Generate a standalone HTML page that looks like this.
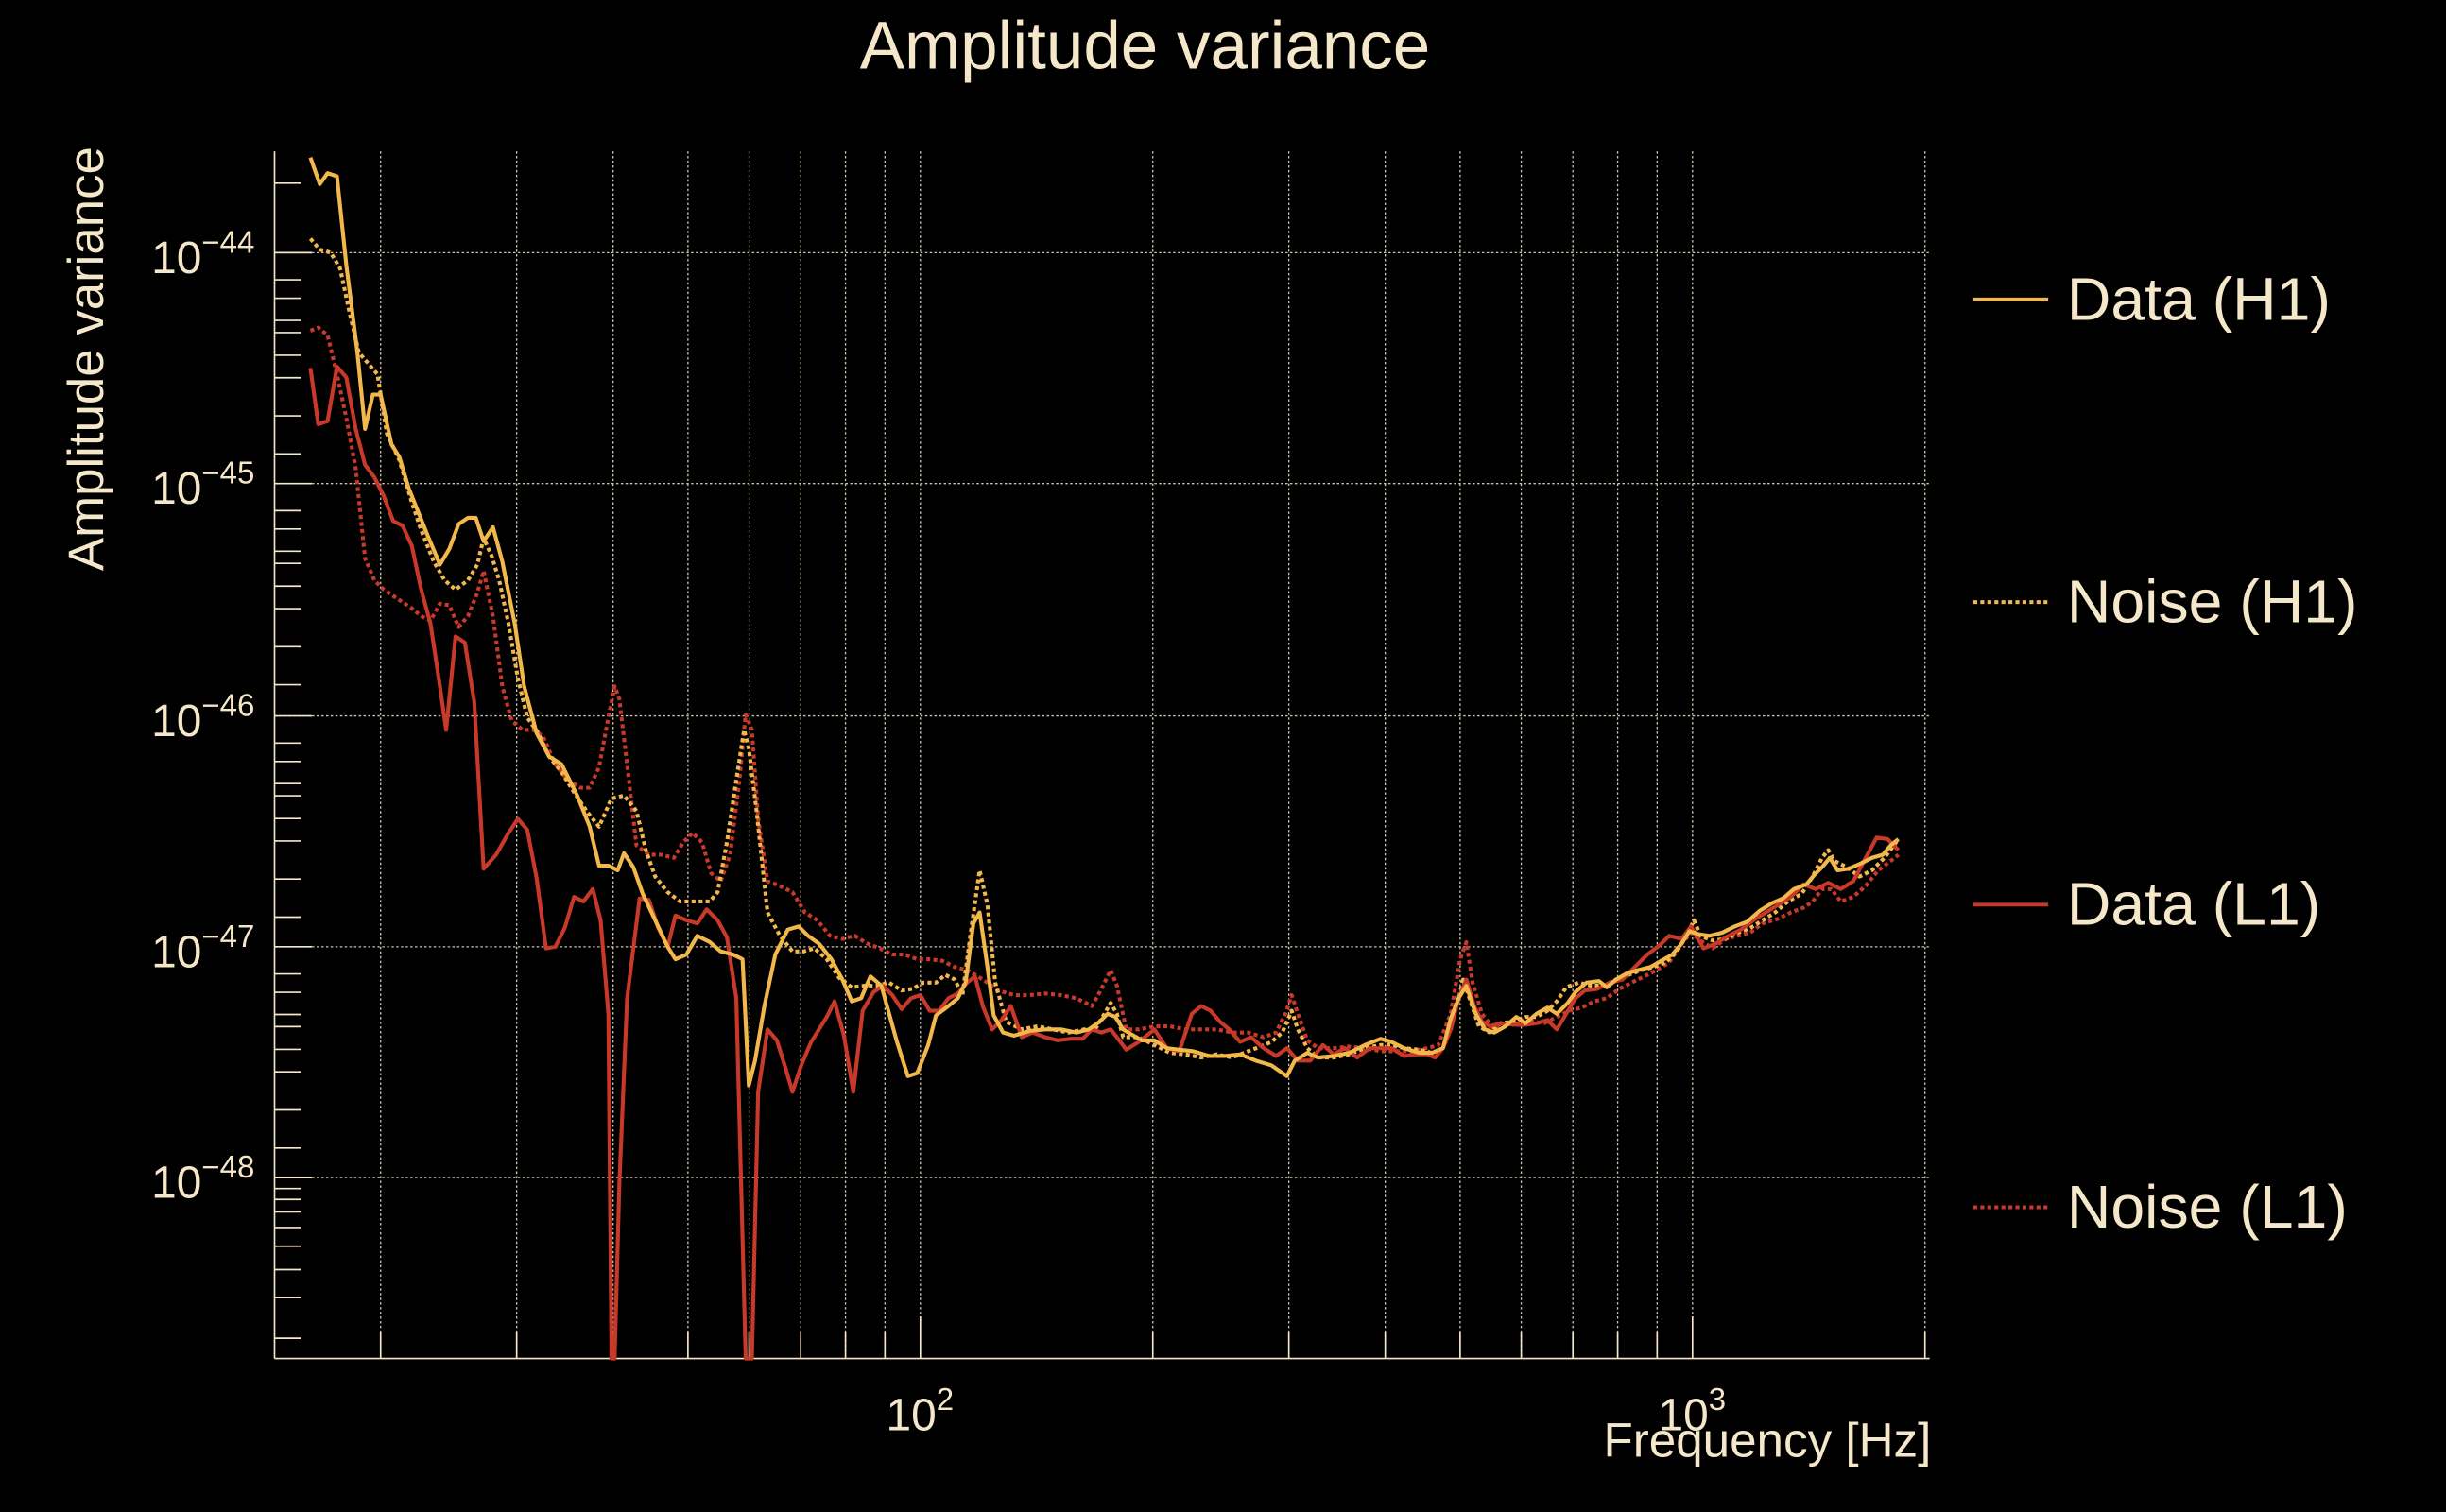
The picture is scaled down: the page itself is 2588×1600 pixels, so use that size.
<!DOCTYPE html>
<html><head><meta charset="utf-8"><style>
html,body{margin:0;padding:0;background:#000;}
svg{display:block;}
text{font-family:"Liberation Sans",sans-serif;fill:#f5e7c9;}
</style></head><body>
<svg width="2588" height="1600" viewBox="0 0 1568 969.4" xmlns="http://www.w3.org/2000/svg">
<rect x="0" y="0" width="1568" height="970" fill="#000"/>
<g stroke="#f5e7c9" stroke-width="0.8" stroke-dasharray="1.5,1.5" opacity="0.85">
<line x1="244" y1="97" x2="244" y2="871"/><line x1="331.2" y1="97" x2="331.2" y2="871"/><line x1="393" y1="97" x2="393" y2="871"/><line x1="441" y1="97" x2="441" y2="871"/><line x1="480.2" y1="97" x2="480.2" y2="871"/><line x1="513.3" y1="97" x2="513.3" y2="871"/><line x1="542" y1="97" x2="542" y2="871"/><line x1="567.3" y1="97" x2="567.3" y2="871"/><line x1="590" y1="97" x2="590" y2="871"/><line x1="739" y1="97" x2="739" y2="871"/><line x1="826.2" y1="97" x2="826.2" y2="871"/><line x1="888" y1="97" x2="888" y2="871"/><line x1="936" y1="97" x2="936" y2="871"/><line x1="975.2" y1="97" x2="975.2" y2="871"/><line x1="1008.3" y1="97" x2="1008.3" y2="871"/><line x1="1037" y1="97" x2="1037" y2="871"/><line x1="1062.3" y1="97" x2="1062.3" y2="871"/><line x1="1085" y1="97" x2="1085" y2="871"/><line x1="1234" y1="97" x2="1234" y2="871"/>
<line x1="176" y1="162" x2="1237" y2="162"/><line x1="176" y1="310" x2="1237" y2="310"/><line x1="176" y1="459" x2="1237" y2="459"/><line x1="176" y1="607" x2="1237" y2="607"/><line x1="176" y1="755" x2="1237" y2="755"/>
</g>
<g stroke="#f5e7c9" stroke-width="1">
<line x1="176" y1="97" x2="176" y2="871"/><line x1="176" y1="871" x2="1237" y2="871"/>
<path d="M176 117.4h17M176 162h24M176 179.4h17M176 191.2h17M176 205.4h17M176 213.2h17M176 227.8h17M176 242.2h17M176 266.6h17M176 291h17M176 310h24M176 327.4h17M176 339.2h17M176 353.4h17M176 361.2h17M176 375.8h17M176 390.2h17M176 414.6h17M176 439h17M176 459h24M176 476.4h17M176 488.2h17M176 502.4h17M176 510.2h17M176 524.8h17M176 539.2h17M176 563.6h17M176 588h17M176 607h24M176 624.4h17M176 636.2h17M176 650.4h17M176 658.2h17M176 672.8h17M176 687.2h17M176 711.6h17M176 736h17M176 755h24M176 762h17M176 769h17M176 777h17M176 787h17M176 799h17M176 814h17M176 832h17M176 858h17"/>
<path d="M244 871v-17M331.2 871v-17M393 871v-17M441 871v-17M480.2 871v-17M513.3 871v-17M542 871v-17M567.3 871v-17M590 871v-27M739 871v-17M826.2 871v-17M888 871v-17M936 871v-17M975.2 871v-17M1008.3 871v-17M1037 871v-17M1062.3 871v-17M1085 871v-27M1234 871v-17"/>
</g>
<g fill="none" stroke-width="2.5" stroke-linejoin="round">
<polyline stroke="#c8392a" stroke-dasharray="2.5,2" points="199,212 204,210 210,215 216,240 222,268 228,300 234,358 240,372 246,378 252,382 258,386 264,390 270,395 276,398 282,387 288,388 294,402 300,395 306,380 310,366 316,395 322,440 328,462 335,468 342,468 348,472 356,490 364,500 372,505 378,505 384,492 390,460 394,440 397,448 402,490 408,542 416,548 424,548 432,550 438,540 444,534 450,540 456,560 462,565 468,548 474,500 478,458 482,468 486,525 492,565 500,568 508,572 516,585 524,590 532,600 540,602 548,600 556,605 564,608 572,612 580,612 588,615 596,615 604,616 612,620 620,622 630,628 640,635 650,638 660,638 670,637 680,638 690,640 700,645 705,636 712,622 716,632 722,660 730,660 740,658 750,658 760,660 770,660 780,660 790,662 800,662 810,665 818,662 824,650 828,638 832,650 838,667 845,672 855,672 865,671 875,672 885,674 895,674 905,674 915,672 922,670 930,650 936,615 940,604 944,630 950,650 958,660 966,657 974,656 982,655 990,656 998,652 1006,648 1014,646 1022,642 1030,640 1038,634 1046,630 1054,626 1062,622 1070,617 1078,605 1084,598 1090,603 1098,608 1106,602 1114,600 1122,598 1130,592 1140,589 1148,585 1156,582 1162,578 1168,570 1174,570 1180,578 1188,575 1196,568 1204,558 1212,552 1217,548"/>
<polyline stroke="#f2b84b" stroke-dasharray="2.5,2" points="199,153 205,160 212,162 218,172 224,200 230,226 236,233 242,240 248,278 256,295 264,322 270,340 278,360 285,372 292,378 300,372 306,362 310,345 315,356 320,372 326,400 332,435 338,460 345,470 352,485 360,495 368,508 376,520 384,530 392,512 400,510 408,520 414,545 420,562 428,572 436,578 445,578 455,578 460,572 466,540 472,500 477,468 480,480 485,520 492,585 500,600 508,610 515,610 522,608 530,615 538,627 546,633 554,632 562,632 570,630 578,635 585,634 592,630 600,630 606,625 612,628 617,638 622,600 628,558 633,580 638,630 645,655 655,660 665,658 675,660 685,662 695,660 702,660 708,650 712,643 716,650 720,665 730,665 740,670 750,675 760,676 770,678 780,676 790,678 800,674 808,671 815,668 822,662 828,648 832,660 838,672 845,678 855,678 865,676 875,672 885,670 892,670 900,672 910,673 918,675 925,672 930,660 935,640 938,628 942,640 948,658 955,662 962,656 970,655 978,652 985,652 992,648 998,642 1004,633 1012,630 1020,632 1028,632 1036,628 1044,625 1052,622 1060,620 1068,617 1075,610 1082,598 1086,590 1090,600 1098,603 1106,602 1114,598 1122,595 1130,590 1138,585 1146,578 1155,573 1162,562 1168,550 1172,545 1176,552 1184,556 1192,562 1200,558 1208,550 1217,538"/>
<polyline stroke="#c8392a" points="199,236 204,272 210,270 216,235 222,242 228,275 234,298 240,306 246,318 252,334 258,337 264,350 270,378 276,400 282,440 286,468 292,408 298,412 304,450 310,557 318,548 326,534 332,525 338,532 344,563 350,608 356,607 362,595 368,575 374,578 380,570 385,590 390,650 392,871 394,871 397,760 402,640 410,576 416,577 422,595 428,607 433,587 440,590 447,592 453,583 460,590 466,601 472,640 478,871 482,871 486,700 492,660 498,667 503,683 508,700 514,682 520,668 525,660 530,652 535,642 541,664 547,700 553,648 560,636 566,632 572,638 578,647 584,640 590,638 596,648 602,648 608,640 614,637 620,630 625,626 630,645 636,660 642,654 648,645 655,665 662,662 670,665 678,667 686,666 694,666 700,660 706,662 712,660 716,665 722,673 730,668 740,660 748,672 756,674 764,650 770,645 776,648 782,655 788,660 795,668 802,665 810,672 818,677 825,672 832,680 840,680 848,670 855,676 862,672 870,678 878,672 885,672 892,672 900,677 908,676 915,676 920,678 925,672 930,660 935,640 940,628 945,645 950,655 955,658 962,656 970,657 978,657 985,656 992,654 998,660 1004,650 1010,640 1016,635 1024,634 1032,630 1040,628 1048,620 1056,612 1064,606 1070,600 1078,602 1084,594 1092,608 1100,605 1108,600 1116,596 1124,590 1132,585 1140,580 1148,575 1156,567 1164,570 1172,566 1180,570 1188,565 1196,550 1203,537 1210,538 1217,545"/>
<polyline stroke="#f2b84b" points="199,101 205,118 210,111 216,113 222,170 229,225 234,275 239,253 244,253 251,285 256,293 262,313 268,328 274,343 282,362 288,352 294,336 300,332 305,332 310,347 316,338 322,360 330,400 336,440 344,470 352,485 360,490 370,510 378,530 384,555 390,555 396,558 400,547 406,556 412,573 420,590 428,607 433,615 440,612 447,600 455,604 462,610 470,612 476,615 480,696 484,680 490,645 497,612 505,596 512,594 518,600 525,605 533,615 540,628 546,642 552,640 558,626 565,632 570,650 575,668 582,690 588,688 595,670 600,651 608,645 614,640 619,630 624,592 628,585 633,620 637,651 643,662 650,664 660,661 670,660 680,660 690,662 698,660 705,655 710,650 715,652 720,660 725,663 732,667 740,667 748,672 756,673 765,674 775,677 785,677 795,676 805,680 815,683 825,690 830,680 838,675 845,678 855,677 865,675 875,670 885,666 892,668 900,672 910,675 918,675 925,672 930,653 935,640 940,632 946,650 952,660 958,662 965,658 972,652 978,656 985,650 992,646 998,650 1005,643 1010,636 1017,630 1025,629 1030,633 1036,628 1043,624 1050,622 1058,620 1065,616 1072,612 1078,605 1083,597 1089,599 1096,600 1104,598 1112,594 1120,591 1128,584 1136,579 1143,576 1150,570 1158,567 1163,561 1168,556 1173,550 1178,558 1185,557 1192,554 1200,550 1207,548 1212,542 1217,538"/>
</g>
<text x="734" y="44" font-size="43" text-anchor="middle">Amplitude variance</text>
<text transform="translate(66,230) rotate(-90)" font-size="32" text-anchor="middle">Amplitude variance</text>
<text x="1238" y="934" font-size="31" text-anchor="end">Frequency [Hz]</text>
<g font-size="29">
<text x="568" y="917">10<tspan font-size="20" dy="-13">2</tspan></text>
<text x="1063" y="917">10<tspan font-size="20" dy="-13">3</tspan></text>
<text x="97" y="175">10<tspan font-size="20" dy="-13">−44</tspan></text>
<text x="97" y="323">10<tspan font-size="20" dy="-13">−45</tspan></text>
<text x="97" y="472">10<tspan font-size="20" dy="-13">−46</tspan></text>
<text x="97" y="620">10<tspan font-size="20" dy="-13">−47</tspan></text>
<text x="97" y="768">10<tspan font-size="20" dy="-13">−48</tspan></text>
</g>
<g stroke-width="2.4">
<line x1="1265" y1="192" x2="1313" y2="192" stroke="#f2b84b"/>
<line x1="1265" y1="386" x2="1313" y2="386" stroke="#f2b84b" stroke-dasharray="2.5,2"/>
<line x1="1265" y1="580" x2="1313" y2="580" stroke="#c8392a"/>
<line x1="1265" y1="774" x2="1313" y2="774" stroke="#c8392a" stroke-dasharray="2.5,2"/>
</g>
<g font-size="39">
<text x="1325" y="205">Data (H1)</text>
<text x="1325" y="399">Noise (H1)</text>
<text x="1325" y="593">Data (L1)</text>
<text x="1325" y="787">Noise (L1)</text>
</g>
</svg>
</body></html>
